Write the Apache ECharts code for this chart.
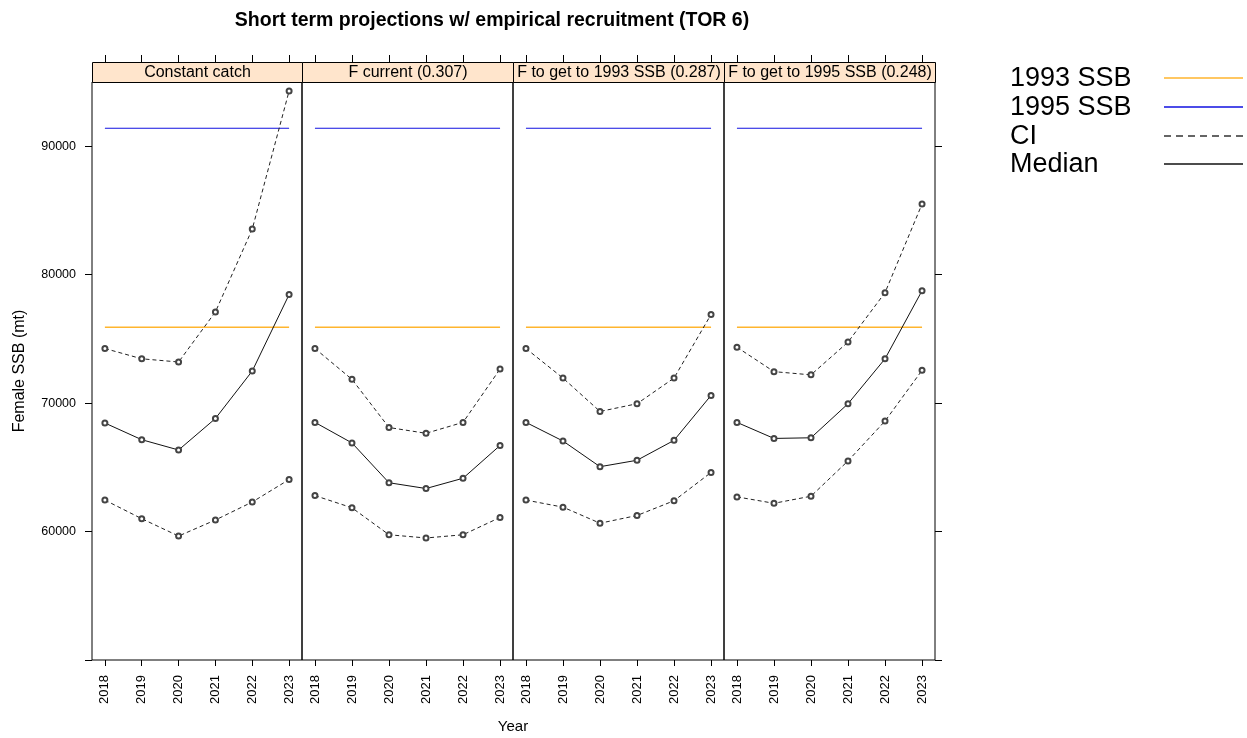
<!DOCTYPE html>
<html>
<head>
<meta charset="utf-8">
<script src="https://cdn.jsdelivr.net/npm/echarts@6/dist/echarts.min.js"></script>
<style>
html,body{margin:0;padding:0;background:#fff;}
#chart{width:1247px;height:738px;}
</style>
</head>
<body>
<div id="chart"></div>
<script>
// ---- data ----
var years = [2018, 2019, 2020, 2021, 2022, 2023];
var panelTitles = ['Constant catch', 'F current (0.307)', 'F to get to 1993 SSB (0.287)', 'F to get to 1995 SSB (0.248)'];
var yTicks = [50000, 60000, 70000, 80000, 90000];
var yLabels = [60000, 70000, 80000, 90000];

var upperConstCatch = [74250, 73450, 73200, 77100, 83550, 94300];
var medianConstCatch = [68450, 67150, 66350, 68800, 72500, 78450];
var lowerConstCatch = [62450, 61000, 59650, 60900, 62300, 64050];

var upperFcurrent = [74250, 71850, 68100, 67650, 68500, 72650];
var medianFcurrent = [68500, 66900, 63800, 63350, 64150, 66700];
var lowerFcurrent = [62800, 61850, 59750, 59500, 59750, 61100];

var upperF1993 = [74250, 71950, 69350, 69950, 71950, 76900];
var medianF1993 = [68500, 67050, 65050, 65550, 67100, 70600];
var lowerF1993 = [62450, 61900, 60650, 61250, 62400, 64600];

var upperF1995 = [74350, 72450, 72200, 74750, 78600, 85500];
var medianF1995 = [68500, 67250, 67300, 69950, 73450, 78750];
var lowerF1995 = [62700, 62200, 62750, 65500, 68600, 72550];

var ssb1993 = 75900;
var ssb1995 = 91400;

// ---- build ----
var panels = [
  {u: upperConstCatch, m: medianConstCatch, l: lowerConstCatch},
  {u: upperFcurrent, m: medianFcurrent, l: lowerFcurrent},
  {u: upperF1993, m: medianF1993, l: lowerF1993},
  {u: upperF1995, m: medianF1995, l: lowerF1995}
];
var lefts = [92, 302, 513, 724];
var widths = [210, 211, 211, 211];
var gridTop = 82, gridH = 578;
var stripH = 20;
var FONT = 'Liberation Sans, Arial, sans-serif';
var COL1993 = '#FFB52E', COL1995 = '#1010E0';

function pairs(arr){ return years.map(function(y,i){ return [y, arr[i]]; }); }
function flat(v){ return [[years[0], v], [years[years.length-1], v]]; }

var grids = [], xAxes = [], yAxes = [], series = [], graphics = [];
for (var p = 0; p < 4; p++) {
  grids.push({left: lefts[p], top: gridTop, width: widths[p], height: gridH,
    show: true, borderColor: '#000', borderWidth: 1, backgroundColor: 'transparent'});
  xAxes.push({type: 'value', gridIndex: p, min: 2017.65, max: 2023.35, position: 'bottom',
    axisLine: {show: false}, splitLine: {show: false},
    axisTick: {show: true, inside: false, length: 6, customValues: years, lineStyle: {color: '#000'}},
    axisLabel: {show: true, rotate: 90, margin: 15, customValues: years, fontSize: 13, fontFamily: FONT, color: '#000',
      formatter: function(v){ return String(Math.round(v)); }}
  });
  xAxes.push({type: 'value', gridIndex: p, min: 2017.65, max: 2023.35, position: 'top', offset: stripH,
    axisLine: {show: false}, splitLine: {show: false},
    axisTick: {show: true, inside: false, length: 7, customValues: years, lineStyle: {color: '#000'}},
    axisLabel: {show: false}
  });
  yAxes.push({type: 'value', gridIndex: p, min: 50000, max: 95000, position: 'left',
    axisLine: {show: false}, splitLine: {show: false},
    axisTick: {show: p === 0, inside: false, length: 7, customValues: yTicks, lineStyle: {color: '#000'}},
    axisLabel: {show: p === 0, margin: 16, customValues: yLabels, fontSize: 12.5, fontFamily: FONT, color: '#000',
      formatter: function(v){ return String(Math.round(v)); }}
  });
  yAxes.push({type: 'value', gridIndex: p, min: 50000, max: 95000, position: 'right',
    axisLine: {show: false}, splitLine: {show: false},
    axisTick: {show: p === 3, inside: false, length: 7, customValues: yTicks, lineStyle: {color: '#000'}},
    axisLabel: {show: false}
  });

  var xi = p * 2, yi = p * 2;
  series.push({type: 'line', xAxisIndex: xi, yAxisIndex: yi, data: flat(ssb1993), symbol: 'none',
    lineStyle: {color: COL1993, width: 1.5}, silent: true, animation: false, z: 2});
  series.push({type: 'line', xAxisIndex: xi, yAxisIndex: yi, data: flat(ssb1995), symbol: 'none',
    lineStyle: {color: COL1995, width: 1.2}, silent: true, animation: false, z: 2});
  [['u', 'dash'], ['m', 'solid'], ['l', 'dash']].forEach(function(d){
    series.push({type: 'line', xAxisIndex: xi, yAxisIndex: yi, data: pairs(panels[p][d[0]]),
      symbol: 'emptyCircle', symbolSize: 5, showSymbol: true,
      itemStyle: {color: '#444', borderWidth: 0.5},
      lineStyle: {color: d[1] === 'dash' ? '#222' : '#111', width: 1, type: d[1] === 'dash' ? [4, 3] : 'solid'},
      silent: true, animation: false, z: 3});
  });

  graphics.push({type: 'rect', shape: {x: lefts[p] + 0.5, y: gridTop - stripH + 0.5, width: widths[p], height: stripH},
    style: {fill: '#FFE5CC', stroke: '#000', lineWidth: 1}, z: 10});
  graphics.push({type: 'text', x: lefts[p] + widths[p] / 2 + 0.5, y: gridTop - stripH / 2 + 1,
    style: {text: panelTitles[p], font: '16px ' + FONT, fill: '#000', textAlign: 'center', textVerticalAlign: 'middle'}, z: 11});
}

var legendItems = [
  {name: '1993 SSB', color: COL1993, dash: null, y: 79},
  {name: '1995 SSB', color: COL1995, dash: null, y: 108},
  {name: 'CI', color: '#333', dash: [7, 5], y: 137},
  {name: 'Median', color: '#111', dash: null, y: 165}
];
legendItems.forEach(function(it){
  graphics.push({type: 'text', x: 1010, y: it.y,
    style: {text: it.name, font: '27px ' + FONT, fill: '#000', textAlign: 'left', textVerticalAlign: 'middle'}});
  graphics.push({type: 'line', shape: {x1: 1164, y1: it.y - 1, x2: 1243, y2: it.y - 1},
    style: {stroke: it.color, lineWidth: 1.6, lineDash: it.dash}});
});

graphics.push({type: 'text', x: 513, y: 727,
  style: {text: 'Year', font: '15px ' + FONT, fill: '#000', textAlign: 'center', textVerticalAlign: 'middle'}});
graphics.push({type: 'text', x: 20, y: 371, rotation: Math.PI / 2,
  style: {text: 'Female SSB (mt)', font: '16px ' + FONT, fill: '#000', textAlign: 'center', textVerticalAlign: 'middle'}});

var chart = echarts.init(document.getElementById('chart'), null, {renderer: 'canvas'});
chart.setOption({
  backgroundColor: '#fff',
  animation: false,
  title: {text: 'Short term projections w/ empirical recruitment (TOR 6)', left: 487, top: 6, textAlign: 'center',
    textStyle: {fontFamily: FONT, fontSize: 19.5, fontWeight: 'bold', color: '#000'}},
  grid: grids,
  xAxis: xAxes,
  yAxis: yAxes,
  series: series,
  graphic: graphics
});
</script>
</body>
</html>
